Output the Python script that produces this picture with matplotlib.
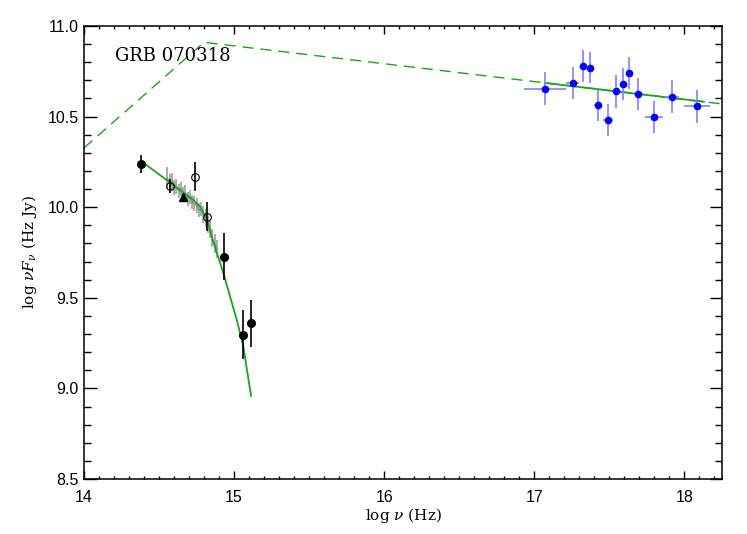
import matplotlib
matplotlib.use('Agg')
import matplotlib.pyplot as plt
from matplotlib.ticker import MultipleLocator

plt.rcParams['mathtext.fontset'] = 'dejavuserif'
plt.rcParams['font.family'] = ['Liberation Sans', 'DejaVu Sans']

# optical photometry (black)
filled_x = [14.380, 14.933, 15.060, 15.115]
filled_y = [10.238, 9.727, 9.295, 9.359]
filled_err = [0.05, 0.13, 0.135, 0.13]

open_x = [14.573, 14.740, 14.822]
open_y = [10.117, 10.168, 9.948]
open_err = [0.04, 0.08, 0.08]

tri_x = [14.658]
tri_y = [10.058]

# optical spectrum (grey)
spec_x = [14.555, 14.570, 14.585, 14.600, 14.615, 14.630, 14.645, 14.660, 14.675,
          14.690, 14.705, 14.720, 14.735, 14.750, 14.765, 14.780, 14.795, 14.810,
          14.825, 14.840, 14.855, 14.870, 14.885]
spec_y = [10.160, 10.135, 10.140, 10.110, 10.115, 10.090, 10.100, 10.070, 10.080,
          10.045, 10.055, 10.030, 10.020, 10.010, 9.985, 9.990, 9.960, 9.940,
          9.905, 9.880, 9.830, 9.800, 9.770]
spec_err = [0.06, 0.05, 0.05, 0.04, 0.04, 0.04, 0.04, 0.04, 0.04,
            0.04, 0.04, 0.04, 0.04, 0.04, 0.04, 0.04, 0.045, 0.05,
            0.05, 0.05, 0.05, 0.05, 0.05]

# optical model curve (green solid)
opt_x = [14.380, 14.640, 14.729, 14.773, 14.818, 14.851, 14.929, 15.018, 15.062, 15.113]
opt_y = [10.255, 10.095, 10.040, 10.003, 9.939, 9.837, 9.635, 9.378, 9.230, 8.958]

# X-ray points (blue)
xr_x = [17.069, 17.255, 17.322, 17.371, 17.424, 17.489, 17.547, 17.591, 17.633,
        17.691, 17.796, 17.918, 18.082]
xr_y = [10.654, 10.685, 10.781, 10.770, 10.562, 10.481, 10.639, 10.680, 10.742,
        10.625, 10.498, 10.610, 10.557]
xr_xerr = [0.141, 0.043, 0.020, 0.015, 0.026, 0.032, 0.020, 0.015, 0.015,
           0.022, 0.062, 0.048, 0.086]
xr_yerr = [0.09, 0.09, 0.088, 0.087, 0.087, 0.086, 0.089, 0.088, 0.087,
           0.089, 0.09, 0.09, 0.09]

# broken power law (green dashed) and X-ray fit (green solid)
bpl_x = [14.0, 14.80, 18.25]
bpl_y = [10.327, 10.910, 10.570]
xfit_x = [17.07, 18.13]
xfit_y = [10.686, 10.582]

fig = plt.figure(figsize=(7.47, 5.34), dpi=100)
ax = fig.add_axes([0.1124, 0.1030, 0.8541, 0.8483])

green = '#1aa61a'
ax.plot(bpl_x, bpl_y, color=green, lw=1.0, dashes=(8, 5))
ax.plot(xfit_x, xfit_y, color=green, lw=1.3)

ax.errorbar(spec_x, spec_y, yerr=spec_err, fmt='none', ecolor='#a0a0a0', elinewidth=1.2)
ax.plot(spec_x, spec_y, color='#909090', lw=1.2)
ax.plot(opt_x, opt_y, color=green, lw=1.3)

ax.errorbar(filled_x, filled_y, yerr=filled_err, fmt='o', color='black', ms=5.5,
            elinewidth=1.2)
ax.errorbar(open_x, open_y, yerr=open_err, fmt='o', color='black', mfc='none', ms=5.5,
            mew=0.8, elinewidth=1.2)
ax.plot(tri_x, tri_y, '^', color='black', ms=5.5)

ax.errorbar(xr_x, xr_y, xerr=xr_xerr, yerr=xr_yerr, fmt='o', color='blue',
            ecolor='#8080ff', ms=4.5, elinewidth=1.2)

ax.text(14.207, 10.834, 'GRB 070318', fontsize=13, family='DejaVu Serif', va='center')

ax.set_xlim(14, 18.25)
ax.set_ylim(8.5, 11.0)
ax.xaxis.set_major_locator(MultipleLocator(1))
ax.xaxis.set_minor_locator(MultipleLocator(0.1))
ax.yaxis.set_major_locator(MultipleLocator(0.5))
ax.yaxis.set_minor_locator(MultipleLocator(0.1))
ax.yaxis.set_major_formatter(plt.FormatStrFormatter('%.1f'))
ax.tick_params(which='both', direction='in', top=True, right=True, labelsize=11.5, width=1.0)
ax.tick_params(axis='x', which='major', length=6, pad=8)
ax.tick_params(axis='x', which='minor', length=2.5)
ax.tick_params(axis='y', which='major', length=9, pad=4)
ax.tick_params(axis='y', which='minor', length=4.8)
for s in ax.spines.values():
    s.set_linewidth(1.1)

ax.set_xlabel(r'log $\nu$ (Hz)', family='DejaVu Serif', fontsize=11, labelpad=1)
ax.set_ylabel(r'log $\nu F_\nu$ (Hz Jy)', family='DejaVu Serif', fontsize=11, labelpad=6)

fig.savefig('out.png', dpi=100)
